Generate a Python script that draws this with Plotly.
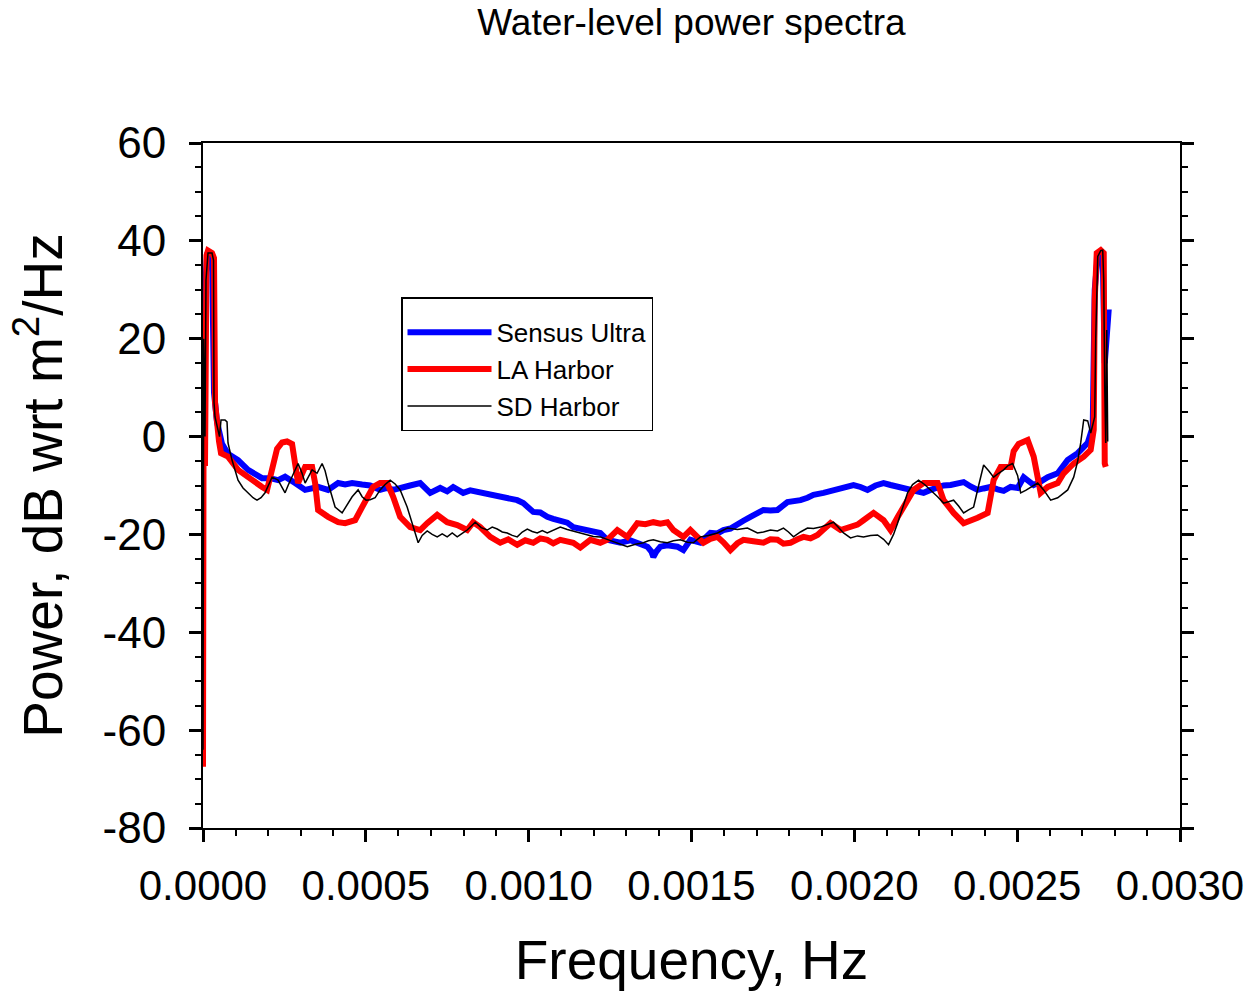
import plotly.graph_objects as go

# ---------------- data (frequency in micro-Hz, power in dB) ----------------
freq_sensus_uhz = [0, 3.1, 6.1, 12.3, 27.7, 33.8, 43.0, 58.4, 76.8, 89.1, 107.6, 138.3, 159.8, 181.3, 205.9,
                   230.5, 252.0, 267.4, 282.7, 313.5, 335.0, 353.4, 384.1, 414.9, 436.4, 457.9, 488.6, 513.2,
                   543.9, 565.5, 583.9, 614.6, 636.1, 666.9, 697.6, 728.3, 749.8, 768.3, 799.0, 820.5, 842.0,
                   872.8, 891.2, 912.7, 943.4, 964.9, 983.4, 1014.1, 1035.6, 1057.1, 1075.6, 1097.1, 1118.6,
                   1137.0, 1158.6, 1180.1, 1198.5, 1220.0, 1241.5, 1260.0, 1281.5, 1312.2, 1333.7, 1352.2,
                   1364.5, 1376.8, 1382.9, 1392.1, 1404.4, 1425.9, 1456.7, 1475.1, 1496.6, 1527.3, 1558.1,
                   1579.6, 1598.0, 1619.5, 1641.0, 1659.5, 1681.0, 1702.5, 1720.9, 1742.4, 1764.0, 1794.7,
                   1813.1, 1834.6, 1856.2, 1874.6, 1905.3, 1926.8, 1948.3, 1972.9, 1997.5, 2019.0, 2040.5,
                   2065.1, 2089.7, 2111.2, 2132.7, 2151.2, 2172.7, 2194.2, 2212.6, 2234.1, 2255.7, 2274.1,
                   2295.6, 2317.1, 2335.6, 2357.1, 2378.6, 2397.0, 2418.5, 2440.0, 2458.5, 2480.0, 2501.5,
                   2520.0, 2532.2, 2550.7, 2572.2, 2593.7, 2624.4, 2655.2, 2685.9, 2716.6, 2732.0, 2738.1,
                   2747.4, 2762.7, 2768.9, 2775.0, 2781.2]
power_sensus = [26, 22, 30, 37, 37, 9, 3, -1.5, -3.5, -4, -4.8, -6.8, -7.8, -8.5, -8.5,
                -8.9, -8.2, -9, -9.5, -10.9, -10.5, -10.3, -10.9, -9.5, -9.8, -9.5, -9.8, -10,
                -10.9, -10.5, -10.9, -10.5, -10, -9.5, -11.5, -10.5, -11.2, -10.3, -11.5, -11, -11.3,
                -11.5, -11.9, -12.3, -12.6, -13, -13.6, -15.4, -15.5, -16.4, -16.8, -17.1, -17.6,
                -18.5, -18.8, -19.1, -19.4, -19.7, -21.1, -21.3, -21.7, -21.2, -21.7, -21.9,
                -22.5, -23.5, -24.6, -23.5, -22.5, -22.2, -22.5, -23.2, -21.1, -21.7, -19.7,
                -19.8, -19.1, -18.8, -18.1, -17.2, -16.4, -15.6, -15, -15.1, -15, -13.4,
                -13.3, -13, -12.5, -11.9, -11.5, -11.2, -10.9, -10.5, -9.9, -10.3, -10.9,
                -10, -9.5, -9.9, -10.3, -10.5, -10.9, -11.2, -11.5, -10.9, -10.3, -10,
                -9.9, -9.6, -9.3, -10.2, -10.9, -10.6, -10.3, -10.8, -11.1, -10.3, -10.5,
                -8.3, -8.9, -9.9, -9.2, -8.3, -7.5, -4.8, -3.4, -1.3, 2, 30,
                37, 37, 15, 20, 26]

freq_la_uhz = [0, 2.2, 6.1, 10.8, 15.4, 27.7, 33.8, 36.9, 43.0, 49.2, 55.3, 76.8, 107.6, 138.3, 159.8,
               181.3, 196.7, 212.0, 227.4, 242.8, 258.1, 273.5, 282.7, 291.9, 313.5, 335.0, 344.2, 353.4,
               384.1, 414.9, 436.4, 467.1, 488.6, 507.1, 522.4, 543.9, 565.5, 583.9, 605.4, 636.1, 666.9,
               688.4, 719.1, 749.8, 780.6, 811.3, 829.7, 851.2, 882.0, 912.7, 937.3, 964.9, 989.5, 1014.1,
               1035.6, 1057.1, 1075.6, 1097.1, 1118.6, 1137.0, 1158.6, 1189.3, 1220.0, 1241.5, 1272.3,
               1303.0, 1333.7, 1358.3, 1382.9, 1404.4, 1425.9, 1444.4, 1475.1, 1496.6, 1518.1, 1536.6,
               1558.1, 1579.6, 1598.0, 1619.5, 1641.0, 1659.5, 1690.2, 1720.9, 1742.4, 1764.0, 1782.4,
               1803.9, 1825.4, 1843.9, 1865.4, 1886.9, 1905.3, 1926.8, 1957.6, 1988.3, 2009.8, 2028.2,
               2059.0, 2089.7, 2111.2, 2132.7, 2151.2, 2166.5, 2181.9, 2212.6, 2255.7, 2274.1, 2304.8,
               2335.6, 2357.1, 2378.6, 2409.3, 2418.5, 2427.7, 2449.3, 2480.0, 2489.2, 2504.6, 2532.2,
               2550.7, 2572.2, 2593.7, 2624.4, 2642.9, 2673.6, 2704.3, 2725.8, 2735.1, 2738.1, 2744.3,
               2756.6, 2765.8, 2768.9, 2772.0]
power_la = [-67.5, 21, -6, 37, 38, 37.5, 36.5, 7, 2, -1, -3.4, -4.1, -6.8, -8.3, -9.5,
            -10.3, -10.9, -7, -2.5, -1.2, -1, -1.5, -5, -9.5, -6.2, -6.2, -9.5, -15,
            -16.4, -17.5, -17.7, -17.1, -14.4, -12.3, -10.3, -9.5, -9.5, -12.3, -16.4, -18.5, -19.1,
            -17.7, -16, -17.5, -18.1, -19.1, -17.5, -18.5, -20.5, -21.7, -21, -22.1, -21.2, -21.7,
            -20.8, -21.1, -21.8, -21.1, -21.4, -21.7, -22.7, -21.1, -21.7, -21.1, -19.1,
            -20.5, -17.7, -17.9, -17.5, -17.8, -17.5, -19.1, -20.5, -19.1, -20.5, -21.7,
            -20.9, -20.5, -21.6, -23.2, -21.8, -21.1, -21.4, -21.7, -21, -21.1, -21.9,
            -21.7, -21, -20.5, -20.8, -20.1, -19, -17.7, -19.1, -18.5, -18, -17.1,
            -15.6, -17.1, -19.1, -16.5, -14.4, -12.5, -10.9, -9.5, -9.5, -13, -15.6,
            -17.7, -17.2, -16.6, -15.6, -12, -8.9, -6.2, -6.2, -3, -1.5, -0.7,
            -4.1, -11.5, -10.3, -9.5, -7.5, -5.5, -4.1, -2.7, 1.4, 28, 37.5,
            38.1, 37.5, -5.5, -6.2]

freq_sd_uhz = [0, 2.2, 6.1, 9.2, 15.4, 27.7, 32.3, 33.8, 36.9, 46.1, 50.7, 55.3, 67.6, 73.8, 76.8,
               89.1, 107.6, 122.9, 138.3, 153.7, 165.9, 178.2, 190.5, 212.0, 230.5, 242.8, 252.0, 261.2,
               273.5, 291.9, 304.2, 313.5, 335.0, 350.3, 365.7, 374.9, 384.1, 405.6, 427.2, 442.5, 457.9,
               476.3, 488.6, 500.9, 513.2, 528.6, 543.9, 559.3, 574.7, 590.0, 605.4, 626.9, 645.4, 660.7,
               673.0, 688.4, 703.7, 719.1, 734.5, 749.8, 765.2, 780.6, 795.9, 811.3, 835.9, 854.3, 872.8,
               888.1, 903.5, 918.9, 934.2, 949.6, 964.9, 980.3, 995.7, 1011.0, 1026.4, 1041.8, 1057.1,
               1075.6, 1097.1, 1118.6, 1137.0, 1158.6, 1180.1, 1198.5, 1220.0, 1241.5, 1260.0, 1281.5,
               1303.0, 1327.6, 1352.2, 1367.5, 1382.9, 1404.4, 1425.9, 1444.4, 1465.9, 1487.4, 1505.8,
               1527.3, 1551.9, 1579.6, 1610.3, 1641.0, 1671.8, 1702.5, 1720.9, 1742.4, 1764.0, 1782.4,
               1797.8, 1813.1, 1834.6, 1856.2, 1874.6, 1896.1, 1917.6, 1936.1, 1951.4, 1966.8, 1988.3,
               2009.8, 2028.2, 2049.8, 2071.3, 2089.7, 2105.1, 2120.4, 2132.7, 2148.1, 2163.5, 2178.8,
               2197.3, 2215.7, 2234.1, 2255.7, 2274.1, 2289.4, 2304.8, 2320.2, 2335.6, 2350.9, 2366.3,
               2381.7, 2397.0, 2412.4, 2427.7, 2443.1, 2458.5, 2470.8, 2486.1, 2501.5, 2510.7, 2526.1,
               2541.5, 2563.0, 2581.4, 2602.9, 2624.4, 2642.9, 2655.2, 2673.6, 2685.9, 2695.1, 2704.3,
               2716.6, 2725.8, 2738.1, 2741.2, 2747.4, 2756.6, 2762.7, 2765.8, 2768.9, 2772.0, 2775.0,
               2778.1]
power_sd = [-64, 20, 0, 32, 37.5, 37.5, 36, 7, 4, 1.4, 0, 3.4, 3.4, 3, -1.3,
            -4.8, -8.9, -10.5, -11.5, -12.5, -13, -12.5, -11.5, -8.3, -8.9, -10.5, -11.5, -10,
            -8.3, -5.5, -7.5, -9.5, -6.8, -7.5, -5.5, -7, -9.5, -14.4, -15.6, -14, -12.3,
            -10.9, -12.3, -13, -12.9, -12.5, -10.9, -9.8, -8.9, -9.7, -10.9, -14.4, -18.5, -21.7,
            -20.2, -19.3, -20, -20.5, -19.9, -20.5, -19.7, -20.5, -19.8, -19.1, -17.5, -18.6, -19.1,
            -18.5, -18.9, -19.5, -19.7, -20.2, -20.5, -19.5, -18.9, -19.4, -19.7, -19.2, -19.7,
            -19.1, -18.5, -19, -19.3, -19.6, -20.1, -20.4, -20.5, -21, -21.5, -22,
            -22.5, -22, -21.7, -21.3, -21.1, -21.5, -21.7, -21.3, -21.1, -21.6, -21.7,
            -20.5, -20.2, -19.7, -18.7, -19, -18.7, -19.7, -19.5, -19.1, -19.3, -18.7,
            -19.5, -20.5, -19.5, -18.7, -18.8, -18.5, -18, -17.5, -18.6, -19.7, -20.7,
            -20.3, -20.5, -20.2, -20.1, -21, -22.1, -20, -17.7, -14.5, -11.5, -9.8,
            -8.9, -9.8, -10.9, -12.3, -13.6, -13.3, -13, -14.2, -15.6, -15, -14.4,
            -10, -5.8, -7, -8.3, -7.5, -6.8, -6, -5.5, -8, -11.5, -11,
            -10.3, -9.5, -10.9, -13, -12.5, -11.5, -10.9, -8.3, -5, -1.3, 3.4,
            3.2, 0.7, 4, 20, 36.8, 38, 38.1, 32, 10, -1.3, 21.8,
            -1]

series_names = ["Sensus Ultra", "LA Harbor", "SD Harbor"]

y_tick_values = [-80, -60, -40, -20, 0, 20, 40, 60]
y_tick_labels = ["-80", "-60", "-40", "-20", "0", "20", "40", "60"]

# ---------------- figure ----------------
FONT = "Arial, 'Liberation Sans', sans-serif"
UHZ = 1e-6

fig = go.Figure()
fig.add_trace(go.Scatter(x=[f * UHZ for f in freq_sensus_uhz], y=power_sensus, mode="lines",
                         name=series_names[0], line=dict(color="#0000FF", width=6)))
fig.add_trace(go.Scatter(x=[f * UHZ for f in freq_la_uhz], y=power_la, mode="lines",
                         name=series_names[1], line=dict(color="#FF0000", width=6)))
fig.add_trace(go.Scatter(x=[f * UHZ for f in freq_sd_uhz], y=power_sd, mode="lines",
                         name=series_names[2], line=dict(color="#000000", width=1.5)))

fig.update_layout(
    width=1250, height=991,
    margin=dict(l=203, r=70, t=143, b=163),
    paper_bgcolor="white", plot_bgcolor="white",
    font=dict(family=FONT, color="black"),
    title=dict(text="Water-level power spectra", x=0.5, xref="paper", xanchor="center",
               y=1 - 22 / 991, yanchor="middle", font=dict(size=37, family=FONT)),
    legend=dict(x=(401 - 203) / 977, y=(828 - 297) / 685, xanchor="left", yanchor="top",
                bgcolor="white", bordercolor="black", borderwidth=1.5,
                font=dict(size=26, family=FONT), itemwidth=84, tracegroupgap=0,
                title=dict(text="&nbsp;", font=dict(size=8))),
    showlegend=True,
)

fig.update_xaxes(
    range=[0, 0.003], dtick=0.0005, tick0=0, tickformat=".4f",
    automargin=False,
    showgrid=False, zeroline=False,
    showline=True, linecolor="black", linewidth=2, mirror=True,
    ticks="outside", ticklen=12, tickwidth=3, tickcolor="black",
    ticklabelstandoff=8,
    tickfont=dict(size=42, family=FONT),
    minor=dict(dtick=0.0001, ticks="outside", ticklen=6, tickwidth=1.5, tickcolor="black", showgrid=False),
    title=dict(text="Frequency, Hz", font=dict(size=55, family=FONT), standoff=36),
)
fig.update_yaxes(
    range=[-80, 60], tickmode="array", tickvals=y_tick_values, ticktext=y_tick_labels,
    automargin=False,
    showgrid=False, zeroline=False,
    showline=True, linecolor="black", linewidth=2, mirror="ticks",
    ticks="outside", ticklen=12, tickwidth=3, tickcolor="black",
    ticklabelstandoff=14,
    tickfont=dict(size=44, family=FONT),
    minor=dict(dtick=5, tick0=0, ticks="outside", ticklen=6, tickwidth=1.5, tickcolor="black", showgrid=False),
    title=dict(text="Power, dB wrt m<sup>2</sup>/Hz", font=dict(size=55, family=FONT), standoff=22),
)

fig.write_html("out.html")
